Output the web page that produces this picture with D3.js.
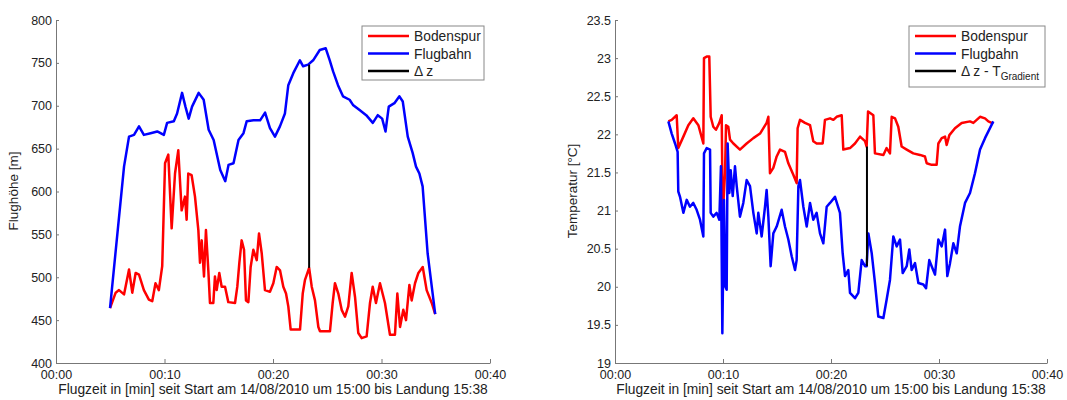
<!DOCTYPE html>
<html>
<head>
<meta charset="utf-8">
<script src="https://cdn.jsdelivr.net/npm/d3@7"></script>
<style>
  body { margin: 0; background: #fff; }
  svg { font-family: "Liberation Sans", Arial, sans-serif; }
  .axis path, .axis line { stroke: #777; }
  .axis text { fill: #222; font-size: 12.5px; }
</style>
</head>
<body>
<div id="chart"></div>
<script>
// flight over the ground track: altitude and temperature, 14/08/2010

// x ticks in minutes since start
const timeTicks = [0, 10, 20, 30, 40];
const heightTicks = [400, 450, 500, 550, 600, 650, 700, 750, 800];
const tempTicks = [19, 19.5, 20, 20.5, 21, 21.5, 22, 22.5, 23, 23.5];

// left panel: Flughöhe [m]
const heightTimeFlug = [4.98, 6.27, 6.73, 7.19, 7.65, 8.10, 8.72, 9.33, 9.94, 10.24, 10.86, 11.16, 11.62, 11.93,
  12.23, 12.54, 13.15, 13.61, 14.07, 14.53, 15.14, 15.60, 15.90, 16.36, 16.82, 17.28, 17.58, 18.20, 18.81,
  19.27, 19.72, 20.18, 20.64, 21.10, 21.41, 21.87, 22.48, 22.78, 23.24, 23.70, 24.31, 24.86, 25.23, 25.54,
  25.99, 26.45, 27.06, 27.37, 27.98, 28.59, 29.20, 29.66, 30.06, 30.37, 30.67, 31.19, 31.65, 31.96, 32.42,
  32.87, 33.18, 33.49, 33.79, 34.25, 34.95];
const heightFlug = [464, 629, 664, 666, 676, 666, 668, 670, 666, 680, 682, 691, 715, 699,
  685, 699, 715, 707, 672, 660, 625, 612, 631, 633, 660, 668, 682, 683, 683,
  692, 674, 664, 676, 691, 724, 738, 753, 746, 748, 753, 765, 767, 753, 740,
  724, 711, 707, 701, 695, 689, 680, 689, 685, 670, 699, 703, 711, 705, 664,
  645, 629, 621, 606, 528, 457];

const heightTimeBoden = [4.98, 5.50, 5.81, 6.27, 6.73, 7.03, 7.34, 7.65, 8.10, 8.56, 8.87, 9.17, 9.48, 9.79,
  10.05, 10.35, 10.66, 10.97, 11.27, 11.58, 11.89, 12.04, 12.19, 12.50, 12.81, 13.12, 13.27, 13.43,
  13.64, 13.82, 14.04, 14.19, 14.50, 14.65, 14.81, 15.05, 15.27, 15.58, 15.88, 16.50, 16.71, 16.90,
  17.11, 17.33, 17.51, 17.73, 17.94, 18.19, 18.50, 18.71, 18.96, 19.26, 19.72, 20.03, 20.34, 20.65,
  20.95, 21.20, 21.41, 21.63, 22.49, 22.74, 22.95, 23.33, 23.57, 23.87, 24.18, 24.33, 25.25, 25.50,
  25.71, 26.02, 26.33, 26.64, 26.94, 27.25, 27.56, 27.86, 28.17, 28.63, 28.94, 29.19, 29.49, 29.86,
  30.32, 30.78, 31.24, 31.46, 31.71, 32.01, 32.26, 32.57, 32.78, 33.09, 33.40, 33.80, 34.16, 34.63, 34.95];
const heightBoden = [464, 482, 485, 480, 509, 482, 505, 503, 485, 474, 472, 493, 485, 513,
  633, 643, 557, 621, 648, 578, 594, 567, 621, 619, 594, 555, 517, 543,
  501, 555, 508, 470, 470, 501, 485, 505, 489, 489, 471, 470, 489, 517,
  543, 532, 473, 471, 512, 532, 520, 551, 528, 485, 483, 493, 512, 508,
  489, 481, 466, 439, 439, 481, 497, 511, 489, 473, 442, 437, 437, 470,
  493, 481, 462, 454, 466, 505, 477, 435, 429, 431, 470, 489, 470, 493,
  470, 433, 433, 481, 442, 462, 450, 491, 473, 493, 505, 512, 485, 470, 457];

// right panel: Temperatur [°C]
const tempTimeFlug = [4.94, 5.25, 5.56, 5.80, 5.86, 6.02, 6.33, 6.64, 6.94, 7.25, 7.56, 7.87, 8.18, 8.24,
  8.49, 8.80, 8.86, 9.10, 9.41, 9.66, 9.81, 9.94, 10.09, 10.22, 10.34, 10.43, 10.59, 10.71, 10.90,
  11.11, 11.27, 11.57, 11.88, 12.19, 12.50, 12.81, 13.12, 13.27, 13.58, 13.89, 14.04, 14.20, 14.41,
  14.66, 14.97, 15.43, 15.74, 16.05, 16.36, 16.67, 16.82, 16.98, 17.13, 17.44, 17.75, 18.06, 18.36,
  18.67, 18.98, 19.29, 19.60, 19.91, 20.37, 20.83, 21.08, 21.30, 21.60, 21.76, 22.22, 22.53, 22.84,
  23.15, 23.30, 23.46, 23.77, 24.07, 24.38, 24.85, 25.15, 25.46, 25.77, 26.08, 26.39, 26.64, 27.01,
  27.25, 27.47, 27.78, 28.09, 28.55, 28.80, 29.10, 29.32, 29.63, 29.94, 30.25, 30.56, 30.77, 31.02,
  31.33, 31.64, 31.94, 32.41, 32.87, 33.33, 33.80, 34.26, 35.03];
const tempFlug = [22.17, 22.01, 21.88, 21.77, 21.25, 21.18, 20.97, 21.14, 21.05, 21.10, 21.01, 20.88, 20.66, 21.75,
  21.82, 21.80, 20.97, 20.92, 20.97, 20.88, 21.58, 19.39, 21.14, 20.00, 19.96, 21.88, 21.23, 21.53, 21.19,
  21.58, 21.32, 20.92, 21.10, 21.40, 21.32, 20.97, 20.70, 20.97, 20.66, 21.05, 21.27, 20.92, 20.27,
  20.70, 20.79, 21.01, 20.79, 20.62, 20.40, 20.22, 20.35, 21.32, 21.40, 21.05, 20.79, 21.10, 20.88,
  20.97, 20.70, 20.57, 21.05, 21.10, 21.18, 20.97, 20.44, 20.14, 20.22, 19.92, 19.85, 19.92, 20.35,
  20.27, 20.27, 20.70, 20.44, 20.05, 19.61, 19.59, 19.83, 20.09, 20.66, 20.53, 20.62, 20.18, 20.27,
  20.49, 20.22, 20.31, 20.05, 20.03, 19.98, 20.35, 20.27, 20.16, 20.62, 20.53, 20.75, 20.14, 20.31,
  20.57, 20.44, 20.79, 21.10, 21.23, 21.49, 21.80, 21.95, 22.17];

const tempTimeBoden = [4.94, 5.25, 5.71, 5.86, 6.33, 6.79, 7.25, 7.72, 8.18, 8.24, 8.49, 8.73, 8.86, 9.10,
  9.35, 9.66, 9.88, 9.97, 10.19, 10.28, 10.49, 10.65, 10.96, 11.57, 12.19, 12.81, 13.43, 14.04, 14.20,
  14.35, 14.66, 14.97, 15.28, 15.74, 16.05, 16.51, 16.82, 16.91, 17.13, 17.59, 18.06, 18.36, 18.67,
  19.23, 19.44, 19.91, 20.22, 20.52, 20.99, 21.14, 21.76, 22.22, 22.69, 23.15, 23.30, 23.43, 23.92,
  24.07, 24.85, 25.15, 25.46, 25.62, 25.93, 26.23, 26.54, 27.01, 27.62, 28.24, 28.70, 28.86, 29.32,
  29.78, 29.94, 30.25, 30.56, 30.71, 30.96, 31.48, 32.10, 32.87, 33.18, 33.80, 34.26, 34.57, 35.03];
const tempBoden = [22.17, 22.19, 22.25, 21.82, 21.97, 22.12, 22.21, 22.12, 21.88, 23.00, 23.02, 23.02, 22.23, 22.10,
  22.06, 22.15, 22.25, 20.92, 21.50, 22.12, 22.10, 21.93, 21.88, 21.80, 21.88, 21.95, 22.01, 22.15, 22.23,
  21.49, 21.56, 21.71, 21.80, 21.77, 21.62, 21.47, 21.36, 22.08, 22.19, 22.15, 22.12, 21.91, 21.88,
  21.88, 22.19, 22.21, 22.19, 22.23, 22.25, 21.80, 21.82, 21.88, 21.97, 21.91, 21.84, 22.30, 22.25,
  21.75, 21.73, 21.82, 21.75, 22.23, 22.21, 22.10, 21.84, 21.80, 21.75, 21.73, 21.71, 21.62, 21.60,
  21.60, 21.88, 21.95, 21.97, 21.86, 21.99, 22.08, 22.15, 22.17, 22.15, 22.23, 22.21, 22.17, 22.14];

// vertical difference marker
const deltaTime = 23.33;
const heightDelta = [511, 748];
const tempDelta = [20.27, 21.84];

const xLabel = 'Flugzeit in [min] seit Start am 14/08/2010 um 15:00 bis Landung 15:38';

const width = 1067, height = 400;
const svg = d3.select('#chart').append('svg')
  .attr('width', width)
  .attr('height', height);

function drawPanel(cfg) {
  const x = d3.scaleLinear().domain([0, 40]).range([cfg.left, cfg.right]);
  const y = d3.scaleLinear().domain(cfg.yDomain).range([363, 20]);
  const g = svg.append('g');

  g.append('g')
    .attr('class', 'axis')
    .attr('transform', 'translate(0,363)')
    .call(d3.axisBottom(x)
      .tickValues(timeTicks)
      .tickSizeInner(-4)
      .tickSizeOuter(0)
      .tickPadding(7)
      .tickFormat(m => '00:' + d3.format('02d')(m)));

  g.append('g')
    .attr('class', 'axis')
    .attr('transform', `translate(${cfg.left},0)`)
    .call(d3.axisLeft(y)
      .tickValues(cfg.yTicks)
      .tickSizeInner(-3)
      .tickSizeOuter(0)
      .tickPadding(4)
      .tickFormat(d3.format('~g')));

  g.append('text')
    .attr('x', (cfg.left + cfg.right) / 2)
    .attr('y', 394)
    .attr('text-anchor', 'middle')
    .attr('fill', '#222')
    .style('font-size', '13.8px')
    .text(xLabel);

  g.append('text')
    .attr('transform', `translate(${cfg.left - 38},191) rotate(-90)`)
    .attr('text-anchor', 'middle')
    .attr('fill', '#222')
    .style('font-size', '13.5px')
    .text(cfg.yLabel);

  const line = d3.line()
    .x(d => x(d[0]))
    .y(d => y(d[1]));

  const boden = d3.zip(cfg.tBoden, cfg.vBoden);
  const flug = d3.zip(cfg.tFlug, cfg.vFlug);

  g.append('path').datum(boden)
    .attr('d', line)
    .attr('fill', 'none')
    .attr('stroke', '#ff0000')
    .attr('stroke-width', 2.5)
    .attr('stroke-linejoin', 'round');

  g.append('path').datum(flug)
    .attr('d', line)
    .attr('fill', 'none')
    .attr('stroke', '#0000ff')
    .attr('stroke-width', 2.5)
    .attr('stroke-linejoin', 'round');

  g.append('line')
    .attr('x1', x(deltaTime)).attr('x2', x(deltaTime))
    .attr('y1', y(cfg.delta[0])).attr('y2', y(cfg.delta[1]))
    .attr('stroke', '#000')
    .attr('stroke-width', 2);

  // legend
  const lg = g.append('g').attr('transform', `translate(${cfg.legend.x},26)`);
  lg.append('rect')
    .attr('width', cfg.legend.w)
    .attr('height', cfg.legend.h)
    .attr('fill', '#fff')
    .attr('stroke', '#888');

  const items = [
    { color: '#ff0000', label: 'Bodenspur' },
    { color: '#0000ff', label: 'Flugbahn' },
    { color: '#000', label: cfg.deltaLabel }
  ];
  items.forEach((it, i) => {
    const yy = 10 + i * 17.5;
    lg.append('line')
      .attr('x1', 6).attr('x2', 47)
      .attr('y1', yy).attr('y2', yy)
      .attr('stroke', it.color)
      .attr('stroke-width', 2.5);
    const t = lg.append('text')
      .attr('x', 52)
      .attr('y', yy + 5)
      .attr('fill', '#222')
      .style('font-size', '13.8px');
    if (it.label === 'sub') {
      t.append('tspan').text('\u0394 z - T');
      t.append('tspan')
        .attr('dy', 4)
        .style('font-size', '10px')
        .text('Gradient');
    } else {
      t.text(it.label);
    }
  });
}

drawPanel({
  left: 56, right: 490,
  yDomain: [400, 800], yTicks: heightTicks,
  yLabel: 'Flughöhe [m]',
  tFlug: heightTimeFlug, vFlug: heightFlug,
  tBoden: heightTimeBoden, vBoden: heightBoden,
  delta: heightDelta,
  deltaLabel: '\u0394 z',
  legend: { x: 362, w: 122, h: 54 }
});

drawPanel({
  left: 615, right: 1047,
  yDomain: [19, 23.5], yTicks: tempTicks,
  yLabel: 'Temperatur [°C]',
  tFlug: tempTimeFlug, vFlug: tempFlug,
  tBoden: tempTimeBoden, vBoden: tempBoden,
  delta: tempDelta,
  deltaLabel: 'sub',
  legend: { x: 909, w: 136, h: 61 }
});
</script>
</body>
</html>
